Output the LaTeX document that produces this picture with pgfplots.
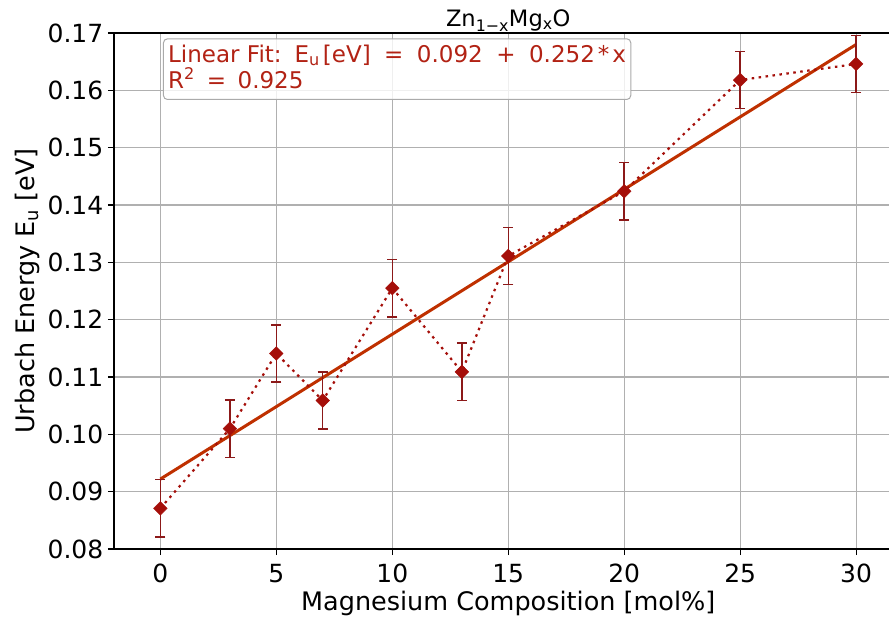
\documentclass[border=0pt]{standalone}
\usepackage{pgfplots}
\pgfplotsset{compat=1.18}
\usepackage{pgfplotstable}
\usepackage{fontspec}
\setmainfont{DejaVu Sans}
\usetikzlibrary{calc}
\definecolor{fitc}{RGB}{191,48,0}
\definecolor{datc}{RGB}{165,15,10}
\definecolor{errc}{RGB}{140,25,25}
\definecolor{txtc}{RGB}{178,34,20}
\definecolor{gridc}{RGB}{176,176,176}
\definecolor{boxc}{RGB}{170,170,170}
\pgfplotstableread{
x y e
0 0.0871 0.005
3 0.1010 0.005
5 0.1141 0.005
7 0.1059 0.005
10 0.1255 0.005
13 0.1109 0.005
15 0.1311 0.005
20 0.1424 0.005
25 0.1618 0.005
30 0.1646 0.005
}\datatable
\begin{document}
\fontsize{25}{30}\selectfont
\begin{tikzpicture}
\begin{axis}[
  name=ax,
  scale only axis,
  width=788.5pt, height=516pt,
  xmin=-2, xmax=32, ymin=0.08, ymax=0.17,
  xtick={0,5,10,15,20,25,30},
  ytick={0.08,0.09,0.10,0.11,0.12,0.13,0.14,0.15,0.16,0.17},
  xtick pos=bottom, ytick pos=left,
  tick align=outside,
  major tick length=6pt,
  every tick/.style={black, line width=1.2pt},
  grid=major,
  major grid style={gridc, line width=1.2pt},
  axis line style={black, line width=1.2pt},
  /pgf/number format/assume math mode=true,
  tick label style={font=\fontsize{25}{30}\selectfont},
  xticklabel style={anchor=base, inner sep=0pt, yshift=-27pt},
  yticklabel style={anchor=east, inner sep=0pt, xshift=-4.5pt, /pgf/number format/fixed, /pgf/number format/fixed zerofill, /pgf/number format/precision=2},
  every axis x label/.style={at={(axis description cs:0.5,-0.1196)}, anchor=base, font=\fontsize{25.5}{30}\selectfont},
  every axis y label/.style={at={(axis description cs:-0.101,0.5)}, rotate=90, anchor=base, font=\fontsize{25.5}{30}\selectfont},
  every axis title/.style={at={(axis description cs:0.5,1.0122)}, anchor=base, font=\fontsize{22.6}{27}\selectfont},
  xlabel={Magnesium Composition [mol\%]},
  ylabel={Urbach Energy E\textsubscript{u} [eV]},
  title={Zn\textsubscript{1−x}Mg\textsubscript{x}O},
]
\addplot[fitc, line width=3pt] coordinates {(0,0.0922) (30,0.1680)};
\addplot[datc, line width=2.2pt, dash pattern=on 2.5pt off 4.5pt,
  mark=square*, mark size=4.8pt,
  mark options={solid, rotate=45, fill=datc, draw=datc, line width=0.5pt},
  error bars/.cd, y dir=both, y explicit,
  error bar style={solid, errc, line width=1.5pt},
  error mark options={solid, rotate=90, errc, line width=1.5pt, mark size=5pt}]
  table[x=x, y=y, y error=e] {\datatable};
\node[anchor=north west, draw=boxc, line width=1pt, rounded corners=4pt,
  fill=white, fill opacity=0.8, text opacity=1, text=txtc,
  inner xsep=4.7pt, inner ysep=5.9pt, align=left,
  font=\fontsize{23}{26.6}\selectfont]
  at (axis description cs:0.0621,0.98973)
  {Linear Fit:\hspace{13pt}E\textsubscript{u}\hspace{3pt}[eV]\hspace{13.5pt}=\hspace{13.5pt}0.092\hspace{13.5pt}+\hspace{13.5pt}0.252\hspace{3pt}*\hspace{3pt}x\\
   R\textsuperscript{2}\hspace{12pt}=\hspace{11.5pt}0.925\rule[-4.8pt]{0pt}{0pt}};
\end{axis}
\pgfresetboundingbox
\path[use as bounding box] ($(ax.south west)+(-114pt,-70pt)$) rectangle ($(ax.south west)+(775pt,549pt)$);
\end{tikzpicture}
\end{document}
